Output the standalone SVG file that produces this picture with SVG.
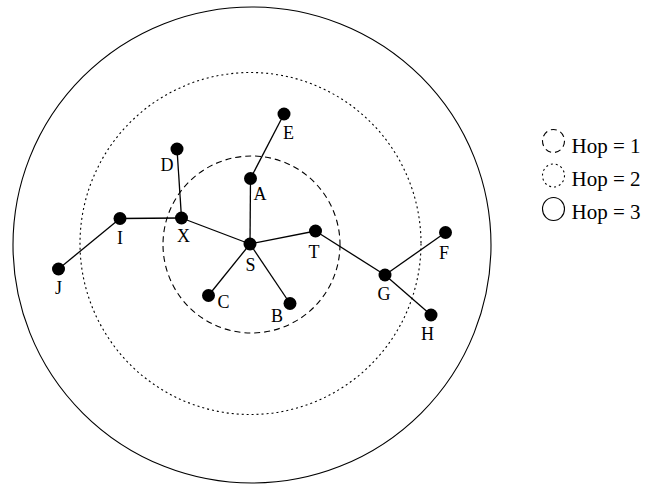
<svg xmlns="http://www.w3.org/2000/svg" width="659" height="486" viewBox="0 0 659 486">
<style>
.ring{fill:none;stroke:#000;stroke-width:1.1}
.dash{stroke-dasharray:6 4}
.dot{stroke-dasharray:2 3}
.edge{stroke:#000;stroke-width:1.3;fill:none}
.n{fill:#000}
.lbl{font-family:"Liberation Serif","Times New Roman",serif;font-size:18px;fill:#000;text-anchor:middle}
.leg{font-family:"Liberation Serif","Times New Roman",serif;font-size:21px;fill:#000}
</style>
<rect width="659" height="486" fill="#fff"/>
<g id="rings">
<ellipse class="ring" cx="252" cy="245" rx="239" ry="238"/>
<ellipse class="ring dot" cx="250.5" cy="243.5" rx="170.5" ry="171"/>
<ellipse class="ring dash" cx="251.5" cy="244.5" rx="88.5" ry="88.5"/>
</g>
<g id="connectors">
<line class="edge" x1="250" y1="244" x2="250.5" y2="178.5"/>
<line class="edge" x1="250.5" y1="178.5" x2="284" y2="114"/>
<line class="edge" x1="250" y1="244" x2="181.5" y2="218"/>
<line class="edge" x1="181.5" y1="218" x2="177" y2="149"/>
<line class="edge" x1="181.5" y1="218" x2="120" y2="218.5"/>
<line class="edge" x1="120" y1="218.5" x2="58.5" y2="269"/>
<line class="edge" x1="250" y1="244" x2="315.5" y2="231"/>
<line class="edge" x1="315.5" y1="231" x2="385" y2="275"/>
<line class="edge" x1="385" y1="275" x2="445.5" y2="232.5"/>
<line class="edge" x1="385" y1="275" x2="431" y2="315"/>
<line class="edge" x1="250" y1="244" x2="208.5" y2="295.5"/>
<line class="edge" x1="250" y1="244" x2="290" y2="303.5"/>
</g>
<g id="S"><circle class="n" cx="250" cy="244" r="6.5"/><text class="lbl" x="250.5" y="271">S</text></g>
<g id="A"><circle class="n" cx="250.5" cy="178.5" r="6.5"/><text class="lbl" x="260" y="200">A</text></g>
<g id="E"><circle class="n" cx="284" cy="114" r="6.5"/><text class="lbl" x="288.5" y="139">E</text></g>
<g id="D"><circle class="n" cx="177" cy="149" r="6.5"/><text class="lbl" x="167" y="171">D</text></g>
<g id="X"><circle class="n" cx="181.5" cy="218" r="6.5"/><text class="lbl" x="183.5" y="242">X</text></g>
<g id="I"><circle class="n" cx="120" cy="218.5" r="6.5"/><text class="lbl" x="120" y="244">I</text></g>
<g id="J"><circle class="n" cx="58.5" cy="269" r="6.5"/><text class="lbl" x="58.5" y="293.5">J</text></g>
<g id="T"><circle class="n" cx="315.5" cy="231" r="6.5"/><text class="lbl" x="314" y="257.5">T</text></g>
<g id="G"><circle class="n" cx="385" cy="275" r="6.5"/><text class="lbl" x="384" y="300">G</text></g>
<g id="F"><circle class="n" cx="445.5" cy="232.5" r="6.5"/><text class="lbl" x="444" y="258.5">F</text></g>
<g id="H"><circle class="n" cx="431" cy="315" r="6.5"/><text class="lbl" x="427.5" y="340">H</text></g>
<g id="C"><circle class="n" cx="208.5" cy="295.5" r="6.5"/><text class="lbl" x="223.5" y="307.5">C</text></g>
<g id="B"><circle class="n" cx="290" cy="303.5" r="6.5"/><text class="lbl" x="277" y="322">B</text></g>
<g id="legend">
<ellipse class="ring dash" cx="553.5" cy="141" rx="11" ry="11.5"/>
<text class="leg" x="571.5" y="152.5">Hop = 1</text>
<ellipse class="ring dot" cx="553.5" cy="175.5" rx="11" ry="11.5"/>
<text class="leg" x="571.5" y="185.5">Hop = 2</text>
<ellipse class="ring" cx="553.5" cy="209" rx="11" ry="11.5"/>
<text class="leg" x="571.5" y="218.5">Hop = 3</text>
</g>
</svg>
